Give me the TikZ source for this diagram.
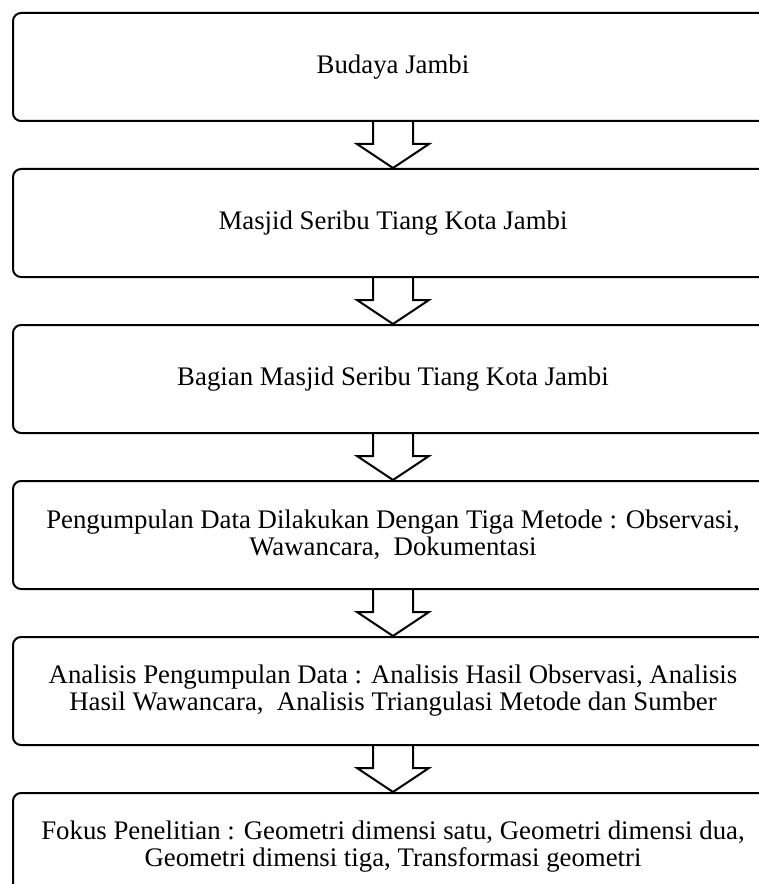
\documentclass[tikz,border=0pt]{standalone}
\usepackage{fontspec}
\setmainfont{Liberation Serif}
\usetikzlibrary{positioning,calc}

\begin{document}
\begin{tikzpicture}[
    every node/.style={font=\fontsize{20.1}{20.3}\selectfont},
    stage/.style={draw, line width=1.5pt, rounded corners=6pt, minimum width=570pt, minimum height=81pt, align=center, inner sep=0pt},
    hollowarrow/.style={draw, line width=1.5pt, line join=miter}
]
    % Fix the page size
    \useasboundingbox (0,0) rectangle (569.25pt,-663pt);

    % Draw the stages
    \node[stage, anchor=north] (budaya) at (294.75pt,-9pt) {Budaya Jambi};
    \node[stage, below=34.5pt of budaya] (masjid) {Masjid Seribu Tiang Kota Jambi};
    \node[stage, below=34.5pt of masjid] (bagian) {Bagian Masjid Seribu Tiang Kota Jambi};
    \node[stage, below=34.5pt of bagian] (pengumpulan) {Pengumpulan Data Dilakukan Dengan Tiga Metode : Observasi,\\ Wawancara,~ Dokumentasi};
    \node[stage, below=34.5pt of pengumpulan] (analisis) {Analisis Pengumpulan Data : Analisis Hasil Observasi, Analisis\\ Hasil Wawancara,~ Analisis Triangulasi Metode dan Sumber};
    \node[stage, below=34.5pt of analisis] (fokus) {Fokus Penelitian : Geometri dimensi satu, Geometri dimensi dua,\\ Geometri dimensi tiga, Transformasi geometri};

    % Draw the block arrows between stages
    \foreach \from/\to in {budaya/masjid, masjid/bagian, bagian/pengumpulan, pengumpulan/analisis, analisis/fokus}
        \draw[hollowarrow] let \p1=(\from.south), \p2=(\to.north) in
            (\x1-15pt,\y1) -- (\x1-15pt,\y1-16.5pt) -- (\x1-27pt,\y1-16.5pt) -- (\x1,\y2)
            -- (\x1+27pt,\y1-16.5pt) -- (\x1+15pt,\y1-16.5pt) -- (\x1+15pt,\y1);
\end{tikzpicture}
\end{document}
